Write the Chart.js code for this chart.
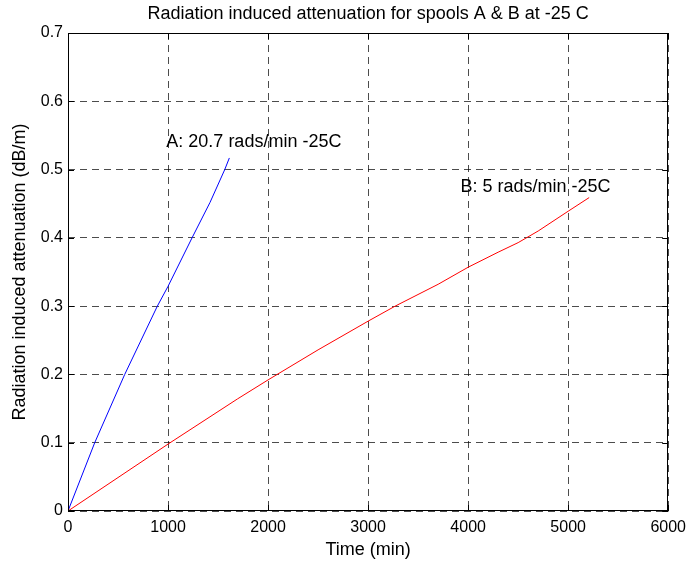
<!DOCTYPE html>
<html>
<head>
<meta charset="utf-8">
<script src="https://cdn.jsdelivr.net/npm/chart.js@4"></script>
<style>
  html, body { margin: 0; padding: 0; background: #fff; }
  #wrap { width: 693px; height: 564px; }
</style>
</head>
<body>
<div id="wrap"><canvas id="rad"></canvas></div>
<script>
// spool A, 20.7 rads/min
const timeA = [0, 267, 567, 893, 1000, 1240, 1420, 1567, 1613];
const attA = [0, 0.1, 0.2, 0.3, 0.329, 0.4, 0.452, 0.5, 0.517];

// spool B, 5 rads/min
const timeB = [0, 1000, 1693, 2000, 2500, 3000, 3270, 3700, 4000, 4300, 4500, 4700, 5000, 5210];
const attB = [0, 0.098, 0.164, 0.192, 0.236, 0.278, 0.3, 0.332, 0.357, 0.379, 0.393, 0.41, 0.439, 0.459];

const xTicks = [0, 1000, 2000, 3000, 4000, 5000, 6000];
const yTicks = [0, 0.1, 0.2, 0.3, 0.4, 0.5, 0.6, 0.7];

const notes = [
  {text: 'A: 20.7 rads/min -25C', x: 983, y: 0.541},
  {text: 'B: 5 rads/min -25C', x: 3923, y: 0.475}
];

const chartTitle = 'Radiation induced attenuation for spools A & B at -25 C';
const fontName = '"Liberation Sans", Arial, sans-serif';

function toPoints(xs, ys) {
  return xs.map((x, i) => ({x: x, y: ys[i]}));
}

// frame, inward ticks, title and the two labels
const matlabLook = {
  id: 'matlabLook',
  afterDraw(chart) {
    const ctx = chart.ctx;
    const a = chart.chartArea;
    const sx = chart.scales.x, sy = chart.scales.y;
    ctx.save();
    ctx.strokeStyle = '#000';
    ctx.lineWidth = 1;
    ctx.setLineDash([]);
    ctx.strokeRect(Math.round(a.left) + 0.5, Math.round(a.top) + 0.5,
      Math.round(a.right - a.left) - 1, Math.round(a.bottom - a.top) - 1);
    ctx.beginPath();
    xTicks.forEach(v => {
      const px = Math.round(sx.getPixelForValue(v)) + 0.5;
      ctx.moveTo(px, a.bottom); ctx.lineTo(px, a.bottom - 6);
      ctx.moveTo(px, a.top); ctx.lineTo(px, a.top + 6);
    });
    yTicks.forEach(v => {
      const py = Math.round(sy.getPixelForValue(v)) + 0.5;
      ctx.moveTo(a.left, py); ctx.lineTo(a.left + 6, py);
      ctx.moveTo(a.right, py); ctx.lineTo(a.right - 6, py);
    });
    ctx.stroke();

    ctx.fillStyle = '#000';
    ctx.font = '18px ' + fontName;
    ctx.textAlign = 'center';
    ctx.textBaseline = 'middle';
    ctx.fillText(chartTitle, (a.left + a.right) / 2, 14);

    ctx.textAlign = 'left';
    notes.forEach(n => {
      ctx.fillText(n.text, sx.getPixelForValue(n.x), sy.getPixelForValue(n.y));
    });
    ctx.restore();
  }
};

new Chart(document.getElementById('rad'), {
  type: 'scatter',
  data: {
    datasets: [{
        label: 'A: 20.7 rads/min -25C',
        data: toPoints(timeA, attA),
        showLine: true,
        borderColor: '#0000ff',
        borderWidth: 1,
        pointRadius: 0,
        tension: 0
      },
      {
        label: 'B: 5 rads/min -25C',
        data: toPoints(timeB, attB),
        showLine: true,
        borderColor: '#ff0000',
        borderWidth: 1,
        pointRadius: 0,
        tension: 0
      }
    ]
  },
  options: {
    responsive: true,
    maintainAspectRatio: false,
    animation: false,
    devicePixelRatio: 1,
    layout: {
      padding: {top: 33, right: 21, left: 0, bottom: 0}
    },
    scales: {
      x: {
        type: 'linear',
        min: 0,
        max: 6000,
        afterFit(scale) { scale.height = 53; },
        afterBuildTicks(scale) { scale.ticks = xTicks.map(v => ({value: v})); },
        ticks: {
          color: '#000',
          padding: 7,
          font: {family: fontName, size: 16},
          callback: v => String(v)
        },
        grid: {
          color: 'rgba(0,0,0,0.7)',
          drawTicks: false
        },
        border: {display: false, dash: [7, 5]},
        title: {
          display: true,
          text: 'Time (min)',
          color: '#000',
          font: {family: fontName, size: 18},
          padding: {top: 0, bottom: 3}
        }
      },
      y: {
        type: 'linear',
        min: 0,
        max: 0.7,
        afterFit(scale) { scale.width = 68; },
        afterBuildTicks(scale) { scale.ticks = yTicks.map(v => ({value: v})); },
        ticks: {
          color: '#000',
          padding: 5,
          font: {family: fontName, size: 16},
          callback: v => v === 0 ? '0' : v.toFixed(1)
        },
        grid: {
          color: 'rgba(0,0,0,0.7)',
          drawTicks: false
        },
        border: {display: false, dash: [7, 5]},
        title: {
          display: true,
          text: 'Radiation induced attenuation (dB/m)',
          color: '#000',
          font: {family: fontName, size: 18},
          padding: {top: 9, bottom: 0}
        }
      }
    },
    plugins: {
      legend: {display: false},
      title: {display: false},
      tooltip: {enabled: false}
    }
  },
  plugins: [matlabLook]
});
</script>
</body>
</html>
